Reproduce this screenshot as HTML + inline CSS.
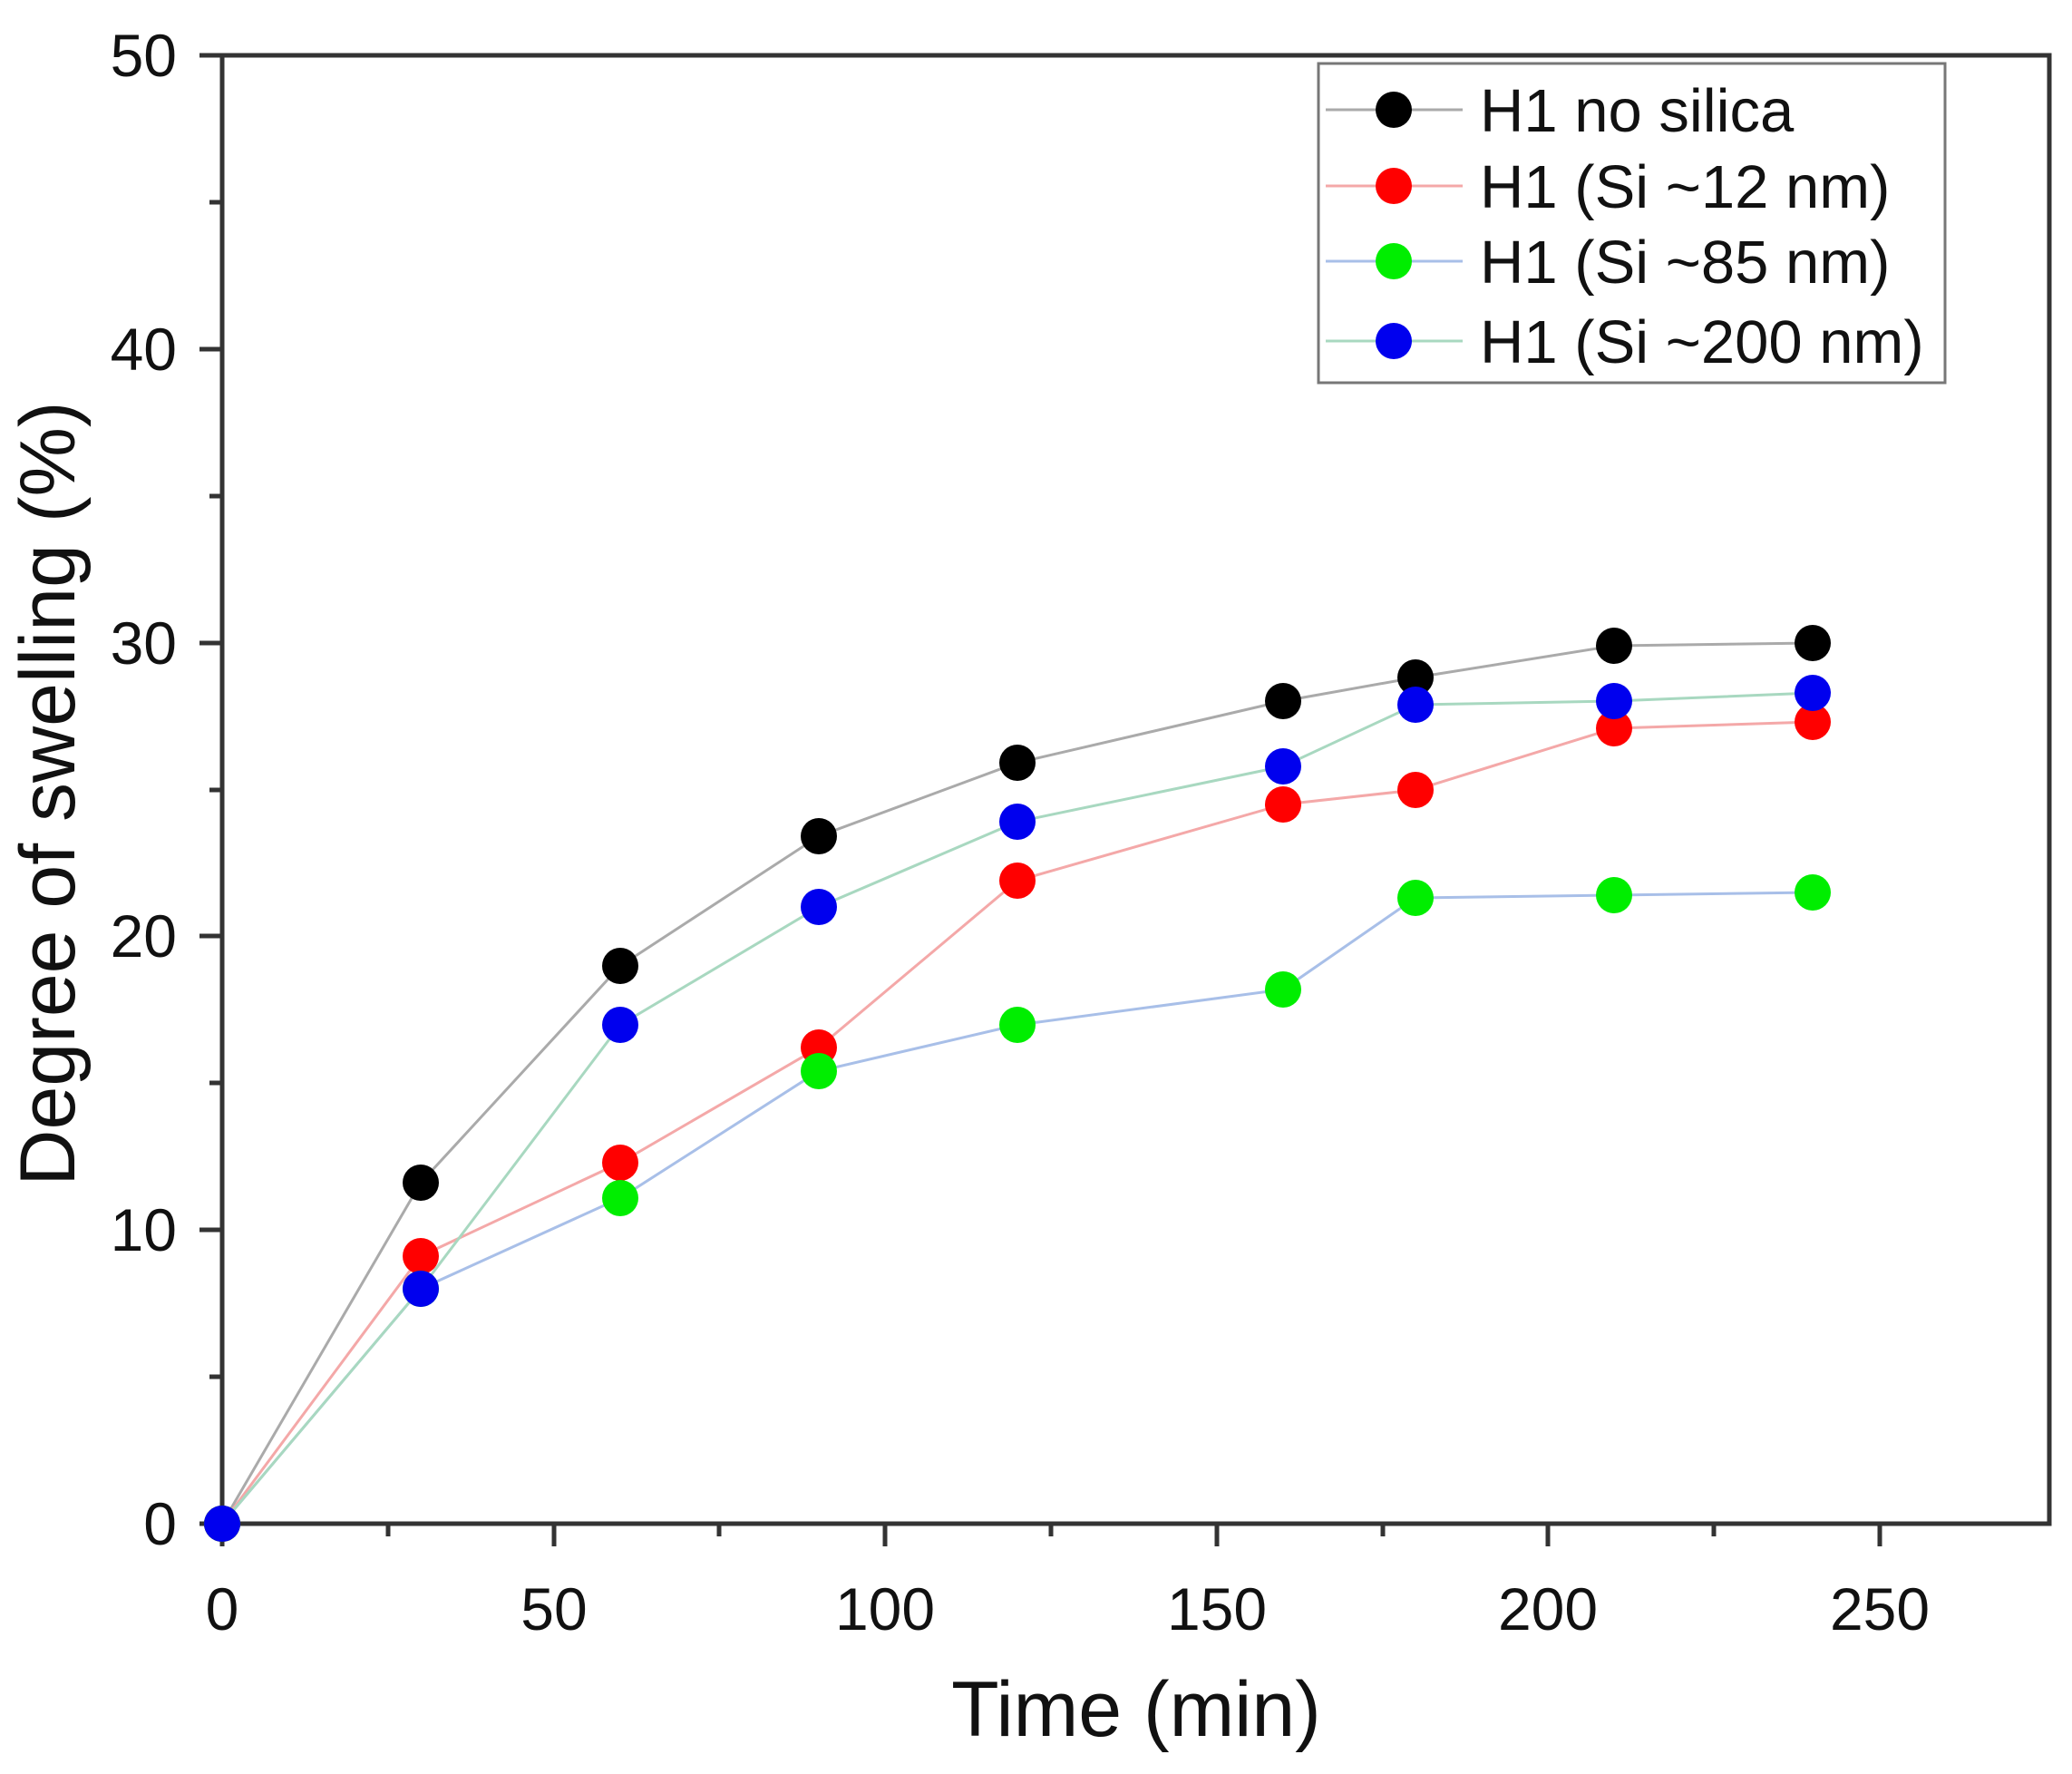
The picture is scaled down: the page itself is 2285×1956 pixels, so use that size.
<!DOCTYPE html>
<html><head><meta charset="utf-8"><style>
html,body{margin:0;padding:0;background:#fff;}
svg{display:block;font-family:"Liberation Sans",Arial,sans-serif;}
</style></head><body>
<svg width="2285" height="1956" viewBox="0 0 2285 1956" xmlns="http://www.w3.org/2000/svg">
<rect width="2285" height="1956" fill="#fff"/>
<rect x="245" y="61" width="2015" height="1619" fill="none" stroke="#333" stroke-width="5"/>
<g stroke="#333" stroke-width="5">
<line x1="245" y1="1680" x2="245" y2="1705"/>
<line x1="611" y1="1680" x2="611" y2="1705"/>
<line x1="976" y1="1680" x2="976" y2="1705"/>
<line x1="1342" y1="1680" x2="1342" y2="1705"/>
<line x1="1707" y1="1680" x2="1707" y2="1705"/>
<line x1="2073" y1="1680" x2="2073" y2="1705"/>
<line x1="428" y1="1680" x2="428" y2="1694"/>
<line x1="793" y1="1680" x2="793" y2="1694"/>
<line x1="1159" y1="1680" x2="1159" y2="1694"/>
<line x1="1525" y1="1680" x2="1525" y2="1694"/>
<line x1="1890" y1="1680" x2="1890" y2="1694"/>
<line x1="220" y1="1680" x2="245" y2="1680"/>
<line x1="220" y1="1356" x2="245" y2="1356"/>
<line x1="220" y1="1032" x2="245" y2="1032"/>
<line x1="220" y1="709" x2="245" y2="709"/>
<line x1="220" y1="385" x2="245" y2="385"/>
<line x1="220" y1="61" x2="245" y2="61"/>
<line x1="231" y1="1518" x2="245" y2="1518"/>
<line x1="231" y1="1194" x2="245" y2="1194"/>
<line x1="231" y1="871" x2="245" y2="871"/>
<line x1="231" y1="547" x2="245" y2="547"/>
<line x1="231" y1="223" x2="245" y2="223"/>
</g>
<g font-size="66" fill="#111" text-anchor="middle">
<text x="245" y="1797">0</text>
<text x="611" y="1797">50</text>
<text x="976" y="1797">100</text>
<text x="1342" y="1797">150</text>
<text x="1707" y="1797">200</text>
<text x="2073" y="1797">250</text>
</g>
<g font-size="66" fill="#111" text-anchor="end">
<text x="195" y="1703">0</text>
<text x="195" y="1379">10</text>
<text x="195" y="1055">20</text>
<text x="195" y="732">30</text>
<text x="195" y="408">40</text>
<text x="195" y="84">50</text>
</g>
<text x="1253" y="1914" font-size="86" fill="#111" text-anchor="middle">Time (min)</text>
<text transform="translate(82,875) rotate(-90)" font-size="86" fill="#111" text-anchor="middle">Degree of swelling (%)</text>

<g fill="none" stroke-width="3">
<polyline stroke="#aaa" points="245,1680 464,1304 684,1065 903,922 1122,841 1415,773 1561,747 1780,712 1999,709"/>
<polyline stroke="#f4a8a8" points="245,1680 464,1385 684,1282 903,1155 1122,971 1415,887 1561,871 1780,803 1999,796"/>
<polyline stroke="#a8bfe8" points="245,1680 464,1421 684,1321 903,1181 1122,1130 1415,1091 1561,990 1780,987 1999,984"/>
<polyline stroke="#a8d8c0" points="245,1680 464,1421 684,1130 903,1000 1122,906 1415,845 1561,777 1780,773 1999,764"/>
</g>
<g fill="#000">
<circle cx="245" cy="1680" r="20"/><circle cx="464" cy="1304" r="20"/><circle cx="684" cy="1065" r="20"/><circle cx="903" cy="922" r="20"/><circle cx="1122" cy="841" r="20"/><circle cx="1415" cy="773" r="20"/><circle cx="1561" cy="747" r="20"/><circle cx="1780" cy="712" r="20"/><circle cx="1999" cy="709" r="20"/>
</g>
<g fill="#ff0000">
<circle cx="245" cy="1680" r="20"/><circle cx="464" cy="1385" r="20"/><circle cx="684" cy="1282" r="20"/><circle cx="903" cy="1155" r="20"/><circle cx="1122" cy="971" r="20"/><circle cx="1415" cy="887" r="20"/><circle cx="1561" cy="871" r="20"/><circle cx="1780" cy="803" r="20"/><circle cx="1999" cy="796" r="20"/>
</g>
<g fill="#00ee00">
<circle cx="245" cy="1680" r="20"/><circle cx="464" cy="1421" r="20"/><circle cx="684" cy="1321" r="20"/><circle cx="903" cy="1181" r="20"/><circle cx="1122" cy="1130" r="20"/><circle cx="1415" cy="1091" r="20"/><circle cx="1561" cy="990" r="20"/><circle cx="1780" cy="987" r="20"/><circle cx="1999" cy="984" r="20"/>
</g>
<g fill="#0000ee">
<circle cx="245" cy="1680" r="20"/><circle cx="464" cy="1421" r="20"/><circle cx="684" cy="1130" r="20"/><circle cx="903" cy="1000" r="20"/><circle cx="1122" cy="906" r="20"/><circle cx="1415" cy="845" r="20"/><circle cx="1561" cy="777" r="20"/><circle cx="1780" cy="773" r="20"/><circle cx="1999" cy="764" r="20"/>
</g>

<rect x="1454" y="70" width="691" height="352" fill="#fff" stroke="#777" stroke-width="3"/>
<g stroke-width="3">
<line x1="1462" y1="121" x2="1613" y2="121" stroke="#aaa"/>
<line x1="1462" y1="205" x2="1613" y2="205" stroke="#f4a8a8"/>
<line x1="1462" y1="288" x2="1613" y2="288" stroke="#a8bfe8"/>
<line x1="1462" y1="376" x2="1613" y2="376" stroke="#a8d8c0"/>
</g>
<circle cx="1537" cy="121" r="20" fill="#000"/>
<circle cx="1537" cy="205" r="20" fill="#ff0000"/>
<circle cx="1537" cy="288" r="20" fill="#00ee00"/>
<circle cx="1537" cy="376" r="20" fill="#0000ee"/>
<g font-size="67" fill="#111">
<text x="1632" y="145">H1 no silica</text>
<text x="1632" y="229">H1 (Si ~12 nm)</text>
<text x="1632" y="312">H1 (Si ~85 nm)</text>
<text x="1632" y="400">H1 (Si ~200 nm)</text>
</g>
</svg>
</body></html>
